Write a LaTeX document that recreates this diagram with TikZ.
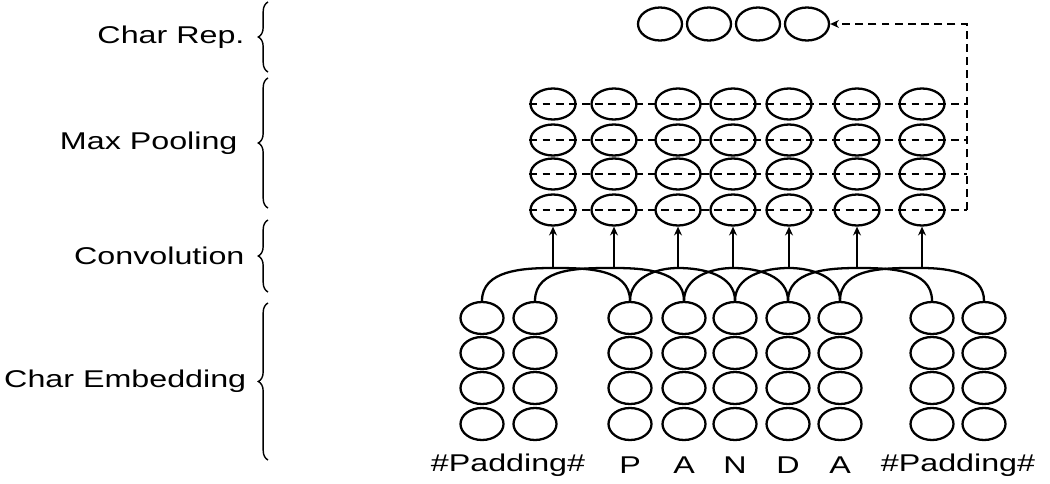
\documentclass[tikz,border=0pt]{standalone}
\usepackage{fontspec}
\setmainfont{Liberation Sans}[FakeStretch=1.33]
\usetikzlibrary{shapes.geometric,decorations.pathreplacing,arrows.meta}

\tikzset{
    cell/.style={draw,ellipse,line width=1.3pt,inner sep=0pt},
    embcell/.style={cell,minimum width=0.86cm,minimum height=0.64cm},
    poolcell/.style={cell,minimum width=0.9cm,minimum height=0.62cm},
    repcell/.style={cell,minimum width=0.88cm,minimum height=0.66cm},
    conv/.style={line width=1.3pt},
    pooldash/.style={line width=1.2pt,dash pattern=on 4.5pt off 3pt},
    layerbrace/.style={decorate,decoration={brace,amplitude=5.5pt},line width=0.8pt},
}

\begin{document}
\begin{tikzpicture}[x=0.02cm,y=0.02cm,>={Stealth[length=5pt,width=4.5pt]},
        font=\fontsize{13.8pt}{16pt}\selectfont]
    \useasboundingbox (0,0) rectangle (1050,-483);

    %% layer braces and names
    \draw[layerbrace] (268,-72) -- (268,-2)
        node[midway,left=13pt,inner sep=0pt] (lrep) {Char Rep.};
    \draw[layerbrace] (268,-208) -- (268,-78)
        node[midway,left=17pt,inner sep=0pt] (lpool) {Max Pooling};
    \draw[layerbrace] (268,-292) -- (268,-220)
        node[midway,left=13pt,inner sep=0pt] (lconv) {Convolution};
    \draw[layerbrace] (268,-460) -- (268,-303)
        node[midway,left=12pt,inner sep=0pt] (lemb) {Char Embedding};

    %% char embedding, 9 columns of 4
    \foreach \x [count=\i] in {482,535,630,684,735,788,840,932,984}
        \foreach \y [count=\j] in {318,353,388,424}
            \node[embcell] (e-\i-\j) at (\x,-\y) {};

    %% characters under the columns
    \node (pad-l) at (508,-465) {\#Padding\#};
    \node (ch-p)  at (630,-465) {P};
    \node (ch-a1) at (684,-465) {A};
    \node (ch-n)  at (735,-465) {N};
    \node (ch-d)  at (788,-465) {D};
    \node (ch-a2) at (840,-465) {A};
    \node (pad-r) at (958,-465) {\#Padding\#};

    %% max pooling, 7 columns of 4
    \foreach \x [count=\i] in {553,614,678,733,789,857,922}
        \foreach \y [count=\j] in {104,140,174,210}
            \node[poolcell] (p-\i-\j) at (\x,-\y) {};

    %% char representation
    \foreach \x [count=\i] in {660,709,758,807}
        \node[repcell] (r-\i) at (\x,-24) {};

    %% convolution, window of 3 columns
    \foreach \x [count=\i] in {553,614,678,733,789,857,922} {
        \pgfmathtruncatemacro\k{\i+2}
        \coordinate (c-\i) at (\x,-268);
        \draw[conv] (e-\i-1.north) to[out=90,in=180] (c-\i)
            to[out=0,in=90] (e-\k-1.north);
        \draw[conv,->] (c-\i) -- (p-\i-4.south);
    }

    %% pooling over each row, back to the char rep
    \coordinate (corner) at (967,-24);
    \foreach \j in {1,2,3,4}
        \draw[pooldash] (p-1-\j.west) -- (p-1-\j.west -| corner);
    \draw[pooldash,->] (p-1-4.west -| corner) -- (corner) -- (r-4.east);
\end{tikzpicture}
\end{document}
